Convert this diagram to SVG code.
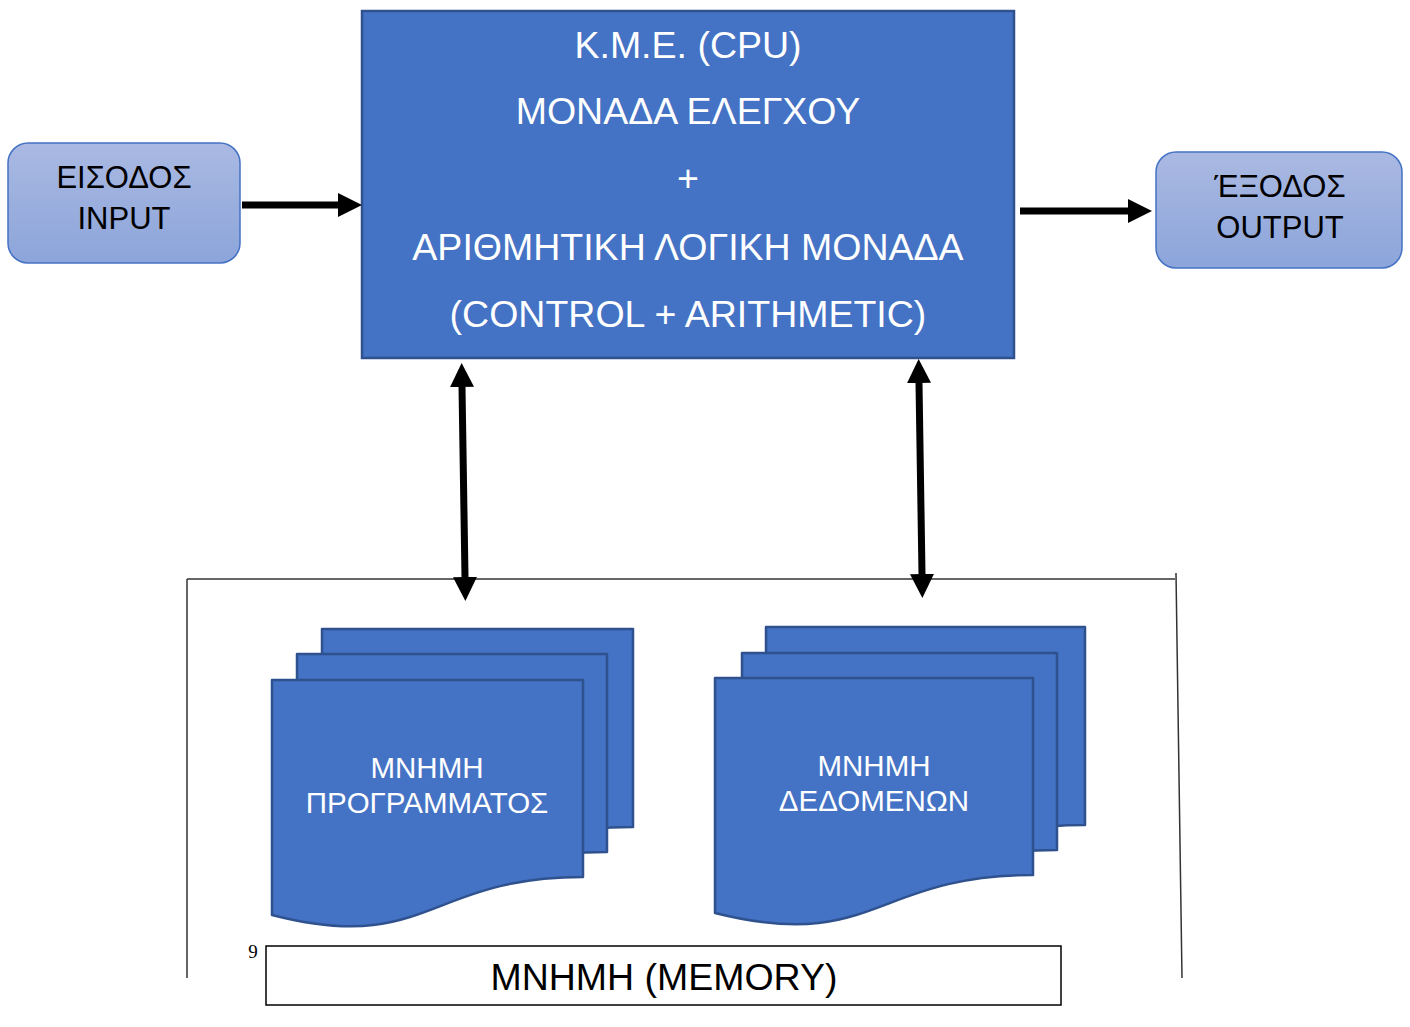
<svg xmlns="http://www.w3.org/2000/svg" width="1410" height="1027" viewBox="0 0 1410 1027">
<style>
.cpu{fill:#4472C4;stroke:#2F528F;stroke-width:2.5}
.doc{fill:#4472C4;stroke:#2F528F;stroke-width:2.5;stroke-linejoin:round}
.io{fill:url(#ioGrad);stroke:#4472C4;stroke-width:1.5}
.wt{font-family:"Liberation Sans",Arial,sans-serif;fill:#FFFFFF;text-anchor:middle}
.bt{font-family:"Liberation Sans",Arial,sans-serif;fill:#000000;text-anchor:middle}
.conn{stroke:#000000;stroke-width:7;fill:none}
.frame{stroke:#333333;stroke-width:1.5;fill:none}
</style>
<defs>
<linearGradient id="ioGrad" x1="0" y1="0" x2="0" y2="1">
<stop offset="0" stop-color="#AAB9E2"/>
<stop offset="1" stop-color="#8CA5DA"/>
</linearGradient>
<marker id="ah" markerUnits="userSpaceOnUse" markerWidth="26" markerHeight="26" viewBox="0 -13 26 26" refX="0" refY="0" orient="auto-start-reverse">
<path d="M0,-12 L24,0 L0,12 Z" fill="#000000"/>
</marker>
</defs>
<rect width="1410" height="1027" fill="#FFFFFF"/>

<g id="memory-frame">
<path class="frame" d="M187,579 H1175"/>
<path class="frame" d="M187,579 V978"/>
<path class="frame" d="M1176,573 L1182,978"/>
</g>

<g id="cpu">
<rect class="cpu" x="362" y="11" width="652" height="347"/>
<text class="wt" x="688" y="58" font-size="37.5">K.M.E. (CPU)</text>
<text class="wt" x="688" y="124" font-size="37.5">ΜΟΝΑΔΑ ΕΛΕΓΧΟΥ</text>
<text class="wt" x="688" y="191" font-size="37.5">+</text>
<text class="wt" x="688" y="260" font-size="37.5">ΑΡΙΘΜΗΤΙΚΗ ΛΟΓΙΚΗ ΜΟΝΑΔΑ</text>
<text class="wt" x="688" y="327" font-size="37.5">(CONTROL + ARITHMETIC)</text>
</g>

<g id="input">
<rect class="io" x="8" y="143" width="232" height="120" rx="20" ry="20"/>
<text class="bt" x="124" y="188" font-size="31">ΕΙΣΟΔΟΣ</text>
<text class="bt" x="124" y="229" font-size="31">INPUT</text>
</g>

<g id="output">
<rect class="io" x="1156" y="152" width="246" height="116" rx="20" ry="20"/>
<text class="bt" x="1280" y="197" font-size="31">ΈΞΟΔΟΣ</text>
<text class="bt" x="1280" y="238" font-size="31">OUTPUT</text>
</g>

<g id="program-memory">
<path class="doc" d="M322,629 H633 V827 C477.5,827 477.5,905 322,865 Z"/>
<path class="doc" d="M297,654 H607 V852 C452,852 452,930 297,890 Z"/>
<path class="doc" d="M272,680 H583 V877 C427.5,877 427.5,955 272,915 Z"/>
<text class="wt" x="427" y="778" font-size="29.5">ΜΝΗΜΗ</text>
<text class="wt" x="427" y="813" font-size="29.5">ΠΡΟΓΡΑΜΜΑΤΟΣ</text>
</g>

<g id="data-memory">
<path class="doc" d="M766,627 H1085 V825 C925.5,825 925.5,903 766,863 Z"/>
<path class="doc" d="M742,653 H1057 V850 C899.5,850 899.5,928 742,888 Z"/>
<path class="doc" d="M715,678 H1033 V875 C874,875 874,953 715,913 Z"/>
<text class="wt" x="874" y="776" font-size="29.5">ΜΝΗΜΗ</text>
<text class="wt" x="874" y="811" font-size="29.5">ΔΕΔΟΜΕΝΩΝ</text>
</g>

<g id="memory-label">
<text x="253" y="958" font-family="Liberation Serif,Times New Roman,serif" font-size="19" fill="#000000" text-anchor="middle">9</text>
<rect x="266" y="946" width="795" height="59" fill="#FFFFFF" stroke="#000000" stroke-width="1.5"/>
<text class="bt" x="664" y="990" font-size="36" textLength="347" lengthAdjust="spacingAndGlyphs">MNHMH (MEMORY)</text>
</g>

<g id="connectors">
<line class="conn" x1="242" y1="205" x2="338" y2="205" marker-end="url(#ah)"/>
<line class="conn" x1="1020" y1="211" x2="1128" y2="211" marker-end="url(#ah)"/>
<line class="conn" x1="462" y1="387" x2="465" y2="577" marker-start="url(#ah)" marker-end="url(#ah)"/>
<line class="conn" x1="919" y1="383" x2="922" y2="574" marker-start="url(#ah)" marker-end="url(#ah)"/>
</g>
</svg>
